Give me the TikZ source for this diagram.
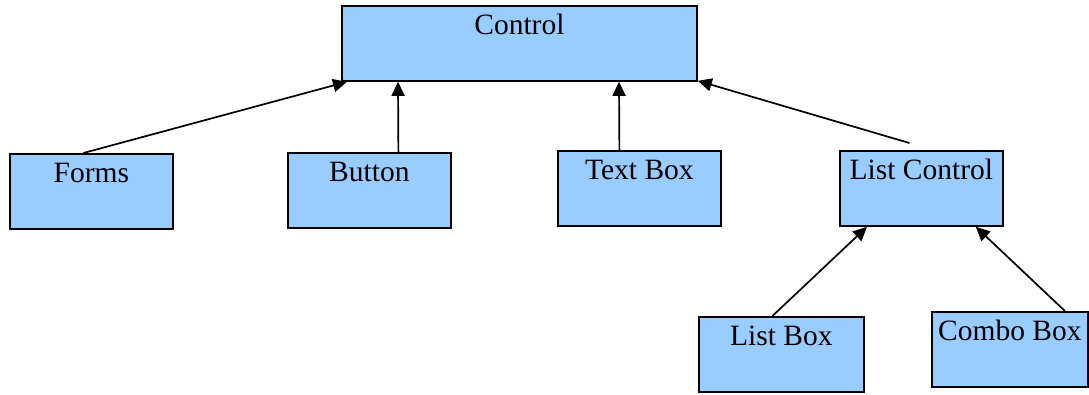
\documentclass[tikz,border=0pt]{standalone}
\usepackage{fontspec}
\setmainfont{Liberation Serif}
\usetikzlibrary{arrows.meta,calc}
\definecolor{boxblue}{RGB}{153,204,255}
\tikzset{
  classbox/.style={draw=black, fill=boxblue, line width=1.8pt,
    anchor=north west, inner xsep=0pt, inner ysep=0pt,
    text height=29pt, text depth=46pt, minimum width=#1,
    font=\fontsize{29.5}{35}\selectfont},
  classbox/.default=163pt,
  inherit/.style={line width=1.7pt, -{Triangle[length=14pt,width=13pt]}}
}
\begin{document}
\begin{tikzpicture}[x=1pt,y=1pt]
  \useasboundingbox (0,0) rectangle (1089,-394);
  % class boxes
  \node[classbox=355pt] (control) at (341,-5) {Control};
  \node[classbox] (forms)    at (9,-153)   {Forms};
  \node[classbox] (button)   at (287,-152) {Button};
  \node[classbox] (textbox)  at (557,-150) {Text Box};
  \node[classbox] (listctl)  at (839,-150) {List Control};
  \node[classbox=165pt] (listbox)  at (698,-316) {List Box};
  \node[classbox=156pt] (combobox) at (931,-311) {Combo Box};
  % inheritance arrows
  \draw[inherit] ($(forms.north)+(-8,0)$) -- ($(control.south west)+(6,0)$);
  \draw[inherit] ($(button.north)+(29,0)$) -- ($(control.south west)+(57,0)$);
  \draw[inherit] ($(textbox.north)+(-20,0)$) -- ($(control.south west)+(278,0)$);
  \draw[inherit] ($(listctl.north)+(-12,7)$) -- ($(control.south east)+(0,1)$);
  \draw[inherit] ($(listbox.north)+(-9,0)$) -- ($(listctl.south west)+(28,0)$);
  \draw[inherit] ($(combobox.north)+(55,0)$) -- ($(listctl.south east)+(-28,0)$);
\end{tikzpicture}
\end{document}
